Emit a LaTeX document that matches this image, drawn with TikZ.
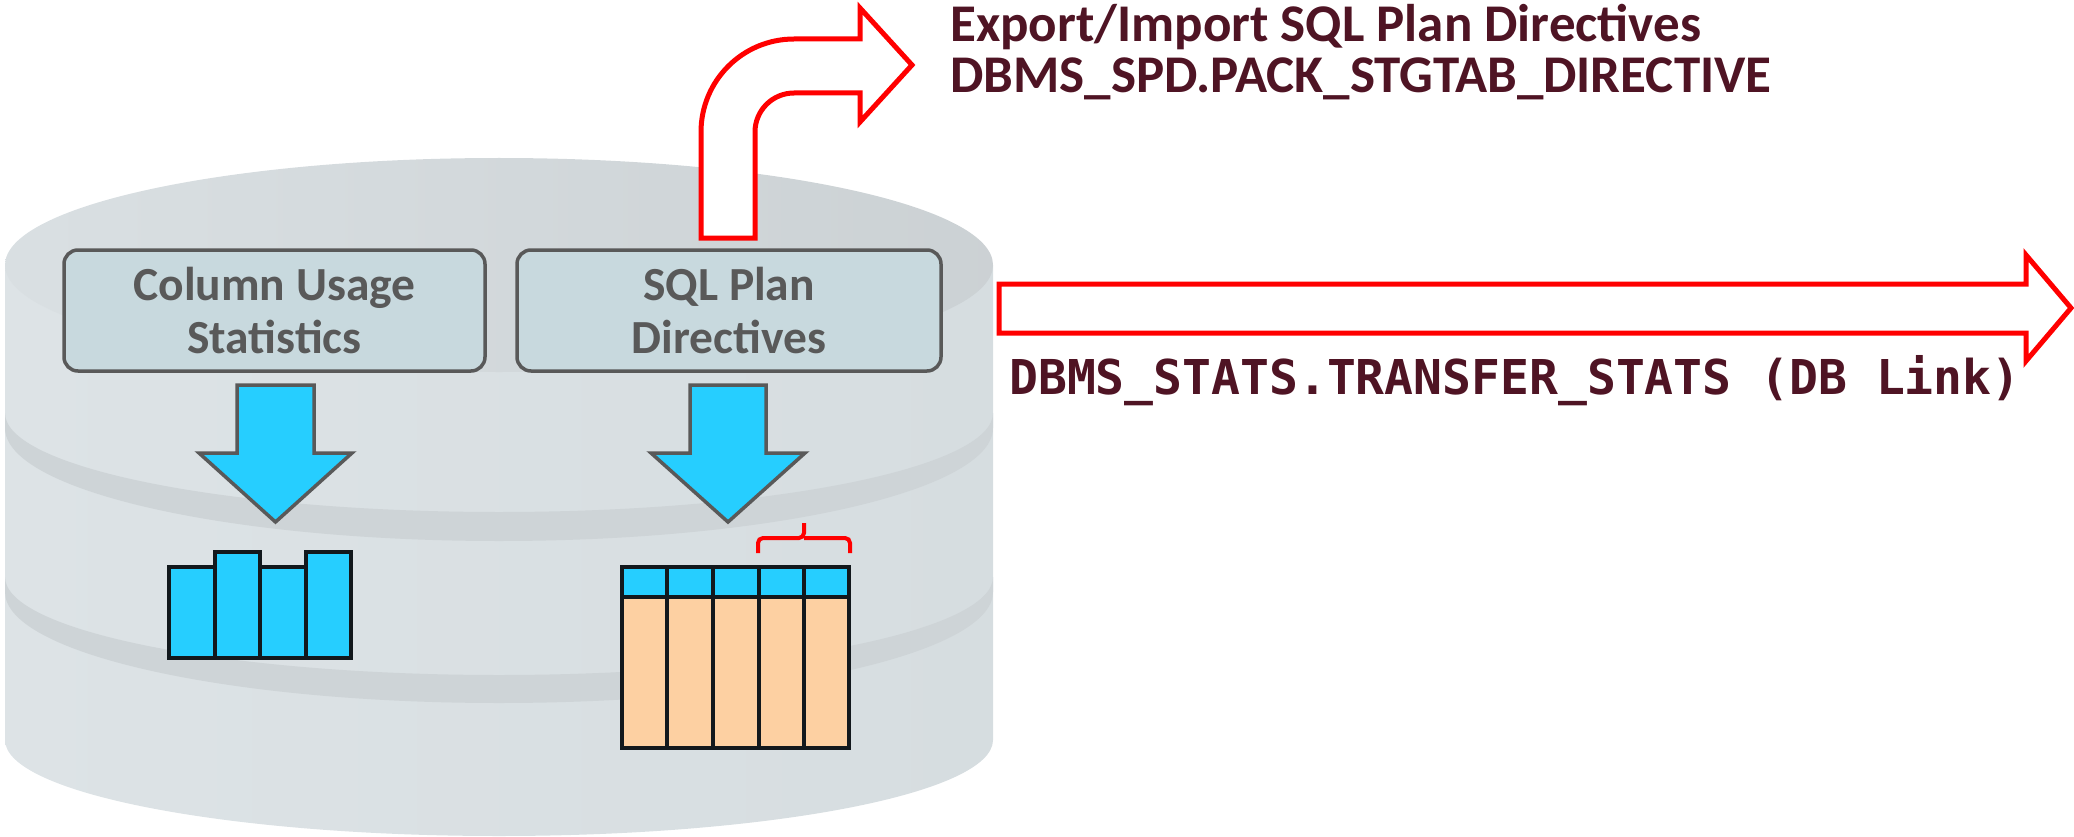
\documentclass[tikz,border=0pt]{standalone}
\usepackage{fontspec}
\setmainfont{Carlito}
\newfontfamily\codefont{DejaVu Sans Mono}
\definecolor{cylTop}{RGB}{212,218,221}
\definecolor{cylLight}{RGB}{221,227,230}
\definecolor{cylDark}{RGB}{214,221,224}
\definecolor{cylBand}{RGB}{206,212,215}
\definecolor{boxFill}{RGB}{200,217,222}
\definecolor{boxLine}{RGB}{89,89,89}
\definecolor{skyBlue}{RGB}{38,206,255}
\definecolor{peach}{RGB}{253,208,162}
\definecolor{ink}{RGB}{18,24,28}
\definecolor{maroon}{RGB}{79,20,36}
\definecolor{hotRed}{RGB}{255,0,0}
\tikzset{
  infobox/.style={draw=boxLine, line width=3.5pt, fill=boxFill, rounded corners=14pt,
    minimum width=421pt, minimum height=121pt, inner sep=0pt, align=center,
    text=boxLine, font=\fontsize{47.5}{53}\selectfont\bfseries},
  downarrow/.style={draw=boxLine, line width=3.5pt, fill=skyBlue, line join=miter},
  cell/.style={draw=ink, line width=3.5pt},
  bigarrow/.style={draw=hotRed, line width=5pt, fill=white, line join=miter},
  headline/.style={anchor=base west, inner sep=0pt, text=maroon,
    font=\fontsize{53}{51}\selectfont\bfseries},
}
\begin{document}
\begin{tikzpicture}[x=1pt,y=-1pt]
\useasboundingbox (0,0) rectangle (2074,837);

% database cylinder: side, bands, top
\shade[left color=cylLight, right color=cylDark]
  (5,265) -- (5,740) arc[start angle=180, end angle=0, x radius=494, y radius=96]
  -- (993,265) -- cycle;
\fill[cylBand] (5,413) arc[start angle=180, end angle=0, x radius=494, y radius=99]
  -- (993,428) arc[start angle=0, end angle=180, x radius=494, y radius=113] -- cycle;
\fill[cylBand] (5,577) arc[start angle=180, end angle=0, x radius=494, y radius=98]
  -- (993,592) arc[start angle=0, end angle=180, x radius=494, y radius=111] -- cycle;
\shade[left color=cylLight!60!cylTop, right color=cylTop!96!black]
  (499,265) ellipse[x radius=494, y radius=107];

% export arrow bending up and right out of the directives
\draw[bigarrow] (701,238) -- (701,132) arc[start angle=180, end angle=270, radius=93]
  -- (860,39) -- (860,8) -- (912,65) -- (860,122) -- (860,93) -- (794,93)
  arc[start angle=270, end angle=180, radius=39] -- (755,238) -- cycle;

% transfer arrow
\draw[bigarrow] (999,284) -- (2026,284) -- (2026,255) -- (2071,308) -- (2026,361)
  -- (2026,333) -- (999,333) -- cycle;

% the two repositories
\node[infobox] (cus) at (274.5,310.5) {Column Usage\\Statistics};
\node[infobox, minimum width=424pt] (spd) at (729,310.5) {SQL Plan\\Directives};

% blue down arrows
\draw[downarrow] (237,385) -- (314,385) -- (314,453) -- (352,453) -- (275.5,522)
  -- (199,453) -- (237,453) -- cycle;
\draw[downarrow] (690,385) -- (766,385) -- (766,453) -- (805,453) -- (728,522)
  -- (651,453) -- (690,453) -- cycle;

% histogram
\draw[cell, fill=skyBlue] (169,567) rectangle (215,658);
\draw[cell, fill=skyBlue] (215,552) rectangle (260,658);
\draw[cell, fill=skyBlue] (260,567) rectangle (306,658);
\draw[cell, fill=skyBlue] (306,552) rectangle (351,658);

% table with header row
\foreach \xa/\xb in {622/667,667/713,713/759,759/804,804/849}{
  \draw[cell, fill=peach] (\xa,597) rectangle (\xb,748);
  \draw[cell, fill=skyBlue] (\xa,567) rectangle (\xb,597);
}

% column group brace
\draw[hotRed, line width=4pt, rounded corners=5pt] (758,553) |- (804,538) -- (804,523);
\draw[hotRed, line width=4pt, rounded corners=5pt] (804,538) -| (850,553);

% labels
\node[headline] (exp1) at (950,42) {Export/Import SQL Plan Directives};
\node[headline] (exp2) at (950,93) {DBMS\_SPD.PACK\_STGTAB\_DIRECTIVE};
\node[anchor=base west, inner sep=0pt, text=maroon,
  font=\codefont\fontsize{48}{52}\selectfont\bfseries] (xfer) at (1009,394)
  {DBMS\_STATS.TRANSFER\_STATS (DB Link)};
\end{tikzpicture}
\end{document}
